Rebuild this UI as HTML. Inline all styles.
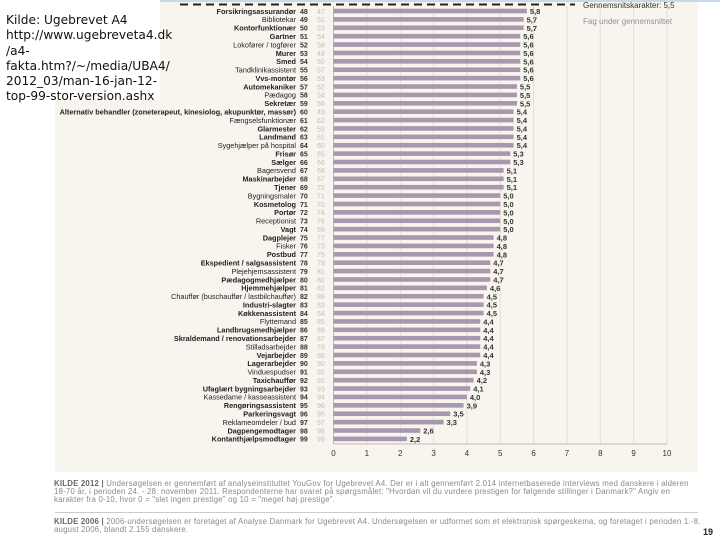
<!DOCTYPE html>
<html><head><meta charset="utf-8">
<style>
html,body{margin:0;padding:0;background:#fff;}
body{width:720px;height:540px;overflow:hidden;position:relative;font-family:"Liberation Sans",sans-serif;}
#bg{position:absolute;left:55px;top:0;width:643px;height:472px;background:#f7f5ee;}
#topstrip{position:absolute;left:0;top:0;width:720px;height:2px;background:#c9d8ea;}
#note{position:absolute;left:0;top:0;width:160px;height:100px;background:#fff;font-family:"DejaVu Sans",sans-serif;font-size:12.2px;line-height:15.3px;color:#111;padding:13px 0 0 6px;box-sizing:border-box;white-space:pre;}
.src{position:absolute;left:54px;font-size:7.8px;line-height:7.9px;letter-spacing:0.22px;color:#8a8a8a;width:648px;}
.src b{color:#666;}
#pg{position:absolute;left:703px;top:527px;font-size:9px;font-weight:bold;color:#222;}
svg{position:absolute;left:0;top:0;}
</style></head>
<body>
<div id="bg"></div>
<div id="topstrip"></div>
<svg id="chart" width="720" height="540"></svg>
<div id="note">Kilde: Ugebrevet A4
http://www.ugebreveta4.dk
/a4-
fakta.htm?/~/media/UBA4/
2012_03/man-16-jan-12-
top-99-stor-version.ashx</div>
<div class="src" style="top:480px"><b>KILDE 2012 |</b> Undersøgelsen er gennemført af analyseinstituttet YouGov for Ugebrevet A4. Der er i alt gennemført 2.014 internetbaserede interviews med danskere i alderen 18-70 år, i perioden 24. - 28. november 2011. Respondenterne har svaret på spørgsmålet: "Hvordan vil du vurdere prestigen for følgende stillinger i Danmark?" Angiv en karakter fra 0-10, hvor 0 = "slet ingen prestige" og 10 = "meget høj prestige".</div>
<div style="position:absolute;left:55px;top:512px;width:643px;height:1px;background:#ccc"></div>
<div class="src" style="top:518px"><b>KILDE 2006 |</b> 2006-undersøgelsen er foretaget af Analyse Danmark for Ugebrevet A4. Undersøgelsen er udformet som et elektronisk spørgeskema, og foretaget i perioden 1.-8. august 2006, blandt 2.155 danskere.</div>
<div id="pg">19</div>
<script>
const labels=["Forsikringsassurandør","Bibliotekar","Kontorfunktionær","Gartner","Lokofører / togfører","Murer","Smed","Tandklinikassistent","Vvs-montør","Automekaniker","Pædagog","Sekretær","Alternativ behandler (zoneterapeut, kinesiolog, akupunktør, massør)","Fængselsfunktionær","Glarmester","Landmand","Sygehjælper på hospital","Frisør","Sælger","Bagersvend","Maskinarbejder","Tjener","Bygningsmaler","Kosmetolog","Portør","Receptionist","Vagt","Dagplejer","Fisker","Postbud","Ekspedient / salgsassistent","Plejehjemsassistent","Pædagogmedhjælper","Hjemmehjælper","Chauffør (buschauffør / lastbilchauffør)","Industri-slagter","Køkkenassistent","Flyttemand","Landbrugsmedhjælper","Skraldemand / renovationsarbejder","Stilladsarbejder","Vejarbejder","Lagerarbejder","Vinduespudser","Taxichauffør","Ufaglært bygningsarbejder","Kassedame / kasseassistent","Rengøringsassistent","Parkeringsvagt","Reklameomdeler / bud","Dagpengemodtager","Kontanthjælpsmodtager"];
const ranks=[48,49,50,51,52,53,54,55,56,57,58,59,60,61,62,63,64,65,66,67,68,69,70,71,72,73,74,75,76,77,78,79,80,81,82,83,84,85,86,87,88,89,90,91,92,93,94,95,96,97,98,99];
const prevRanks=[47,51,53,54,58,48,50,57,53,52,54,56,49,62,59,61,60,65,66,68,67,72,71,70,74,76,69,77,73,75,79,81,80,82,88,83,84,85,89,87,78,86,90,92,91,93,94,96,95,97,98,99];
const values=[5.8,5.7,5.7,5.6,5.6,5.6,5.6,5.6,5.6,5.5,5.5,5.5,5.4,5.4,5.4,5.4,5.4,5.3,5.3,5.1,5.1,5.1,5.0,5.0,5.0,5.0,5.0,4.8,4.8,4.8,4.7,4.7,4.7,4.6,4.5,4.5,4.5,4.4,4.4,4.4,4.4,4.4,4.3,4.3,4.2,4.1,4.0,3.9,3.5,3.3,2.6,2.2];
const ticks=[0,1,2,3,4,5,6,7,8,9,10];
const NS="http://www.w3.org/2000/svg";
const svg=document.getElementById('chart');
const x0=333.5,x1=667,rowTop=11,rowStep=8.39,axisY=444;
const xs=v=>x0+(x1-x0)*v/10;
const ys=i=>rowTop+i*rowStep;
function mk(t,a){const e=document.createElementNS(NS,t);for(const k in a)e.setAttribute(k,a[k]);svg.appendChild(e);return e;}
ticks.forEach(t=>{
 const g=mk('line',{x1:xs(t),x2:xs(t),y1:6,y2:axisY,stroke:t===0?'#bbb':'#e2dfd6','stroke-width':1});
 
 
 const tl=mk('text',{x:xs(t),y:axisY+12,'text-anchor':'middle','font-size':8,fill:'#333'});
 tl.textContent=t;
 
 
});
const ax=mk('line',{x1:x0,x2:x1,y1:axisY,y2:axisY,stroke:'#bbb'});


const dl=mk('line',{x1:180,x2:575,y1:4.5,y2:4.5,stroke:'#222','stroke-width':2,'stroke-dasharray':'8,5'});


const avg=mk('text',{x:583,y:8,'font-size':8,fill:'#333'});
avg.textContent='Gennemsnitskarakter: 5,5';


const fu=mk('text',{x:583,y:24,'font-size':8,fill:'#9b8aa6'});
fu.textContent='Fag under gennemsnittet';


values.forEach((v,i)=>{
 const y=ys(i);
 const lab=mk('text',{x:296,y:y+2.8,'text-anchor':'end','font-size':7.3,fill:'#222','font-weight':i%3===1?'normal':'bold'});
 lab.textContent=labels[i];
 
 
 const r=mk('text',{x:300,y:y+2.8,'font-size':7,'font-weight':'bold',fill:'#333'});
 r.textContent=ranks[i];
 
 
 const p=mk('text',{x:317,y:y+2.8,'font-size':7,fill:'#c2bdb8'});
 p.textContent=prevRanks[i];
 
 
 const b=mk('rect',{x:x0,y:y-2.3,width:xs(v)-x0,height:4.6,fill:'#a897ad'});
 
 
 const vl=mk('text',{x:xs(v)+3,y:y+3,'font-size':7.5,fill:'#333','font-weight':'bold'});
 vl.textContent=v.toFixed(1).replace('.',',');
 
 
});
</script>
</body></html>
